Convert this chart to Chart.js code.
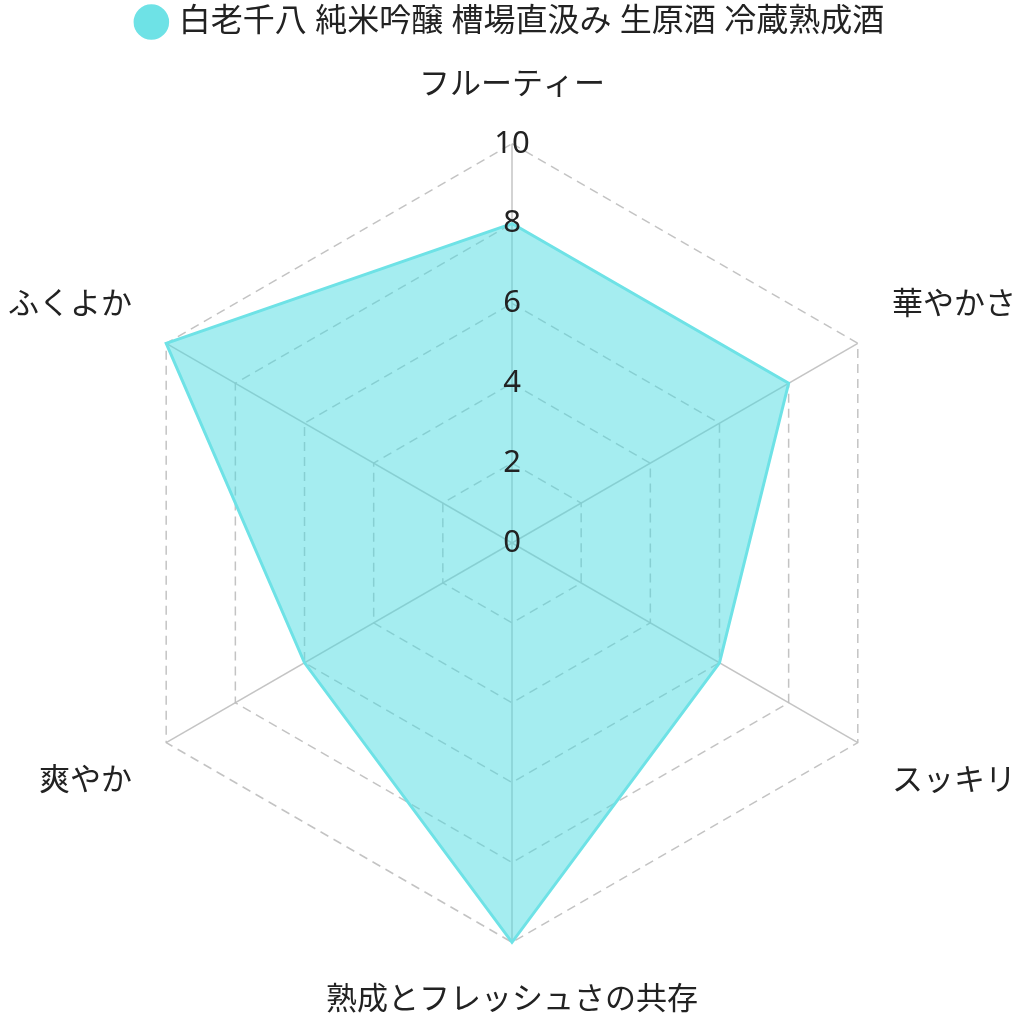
<!DOCTYPE html>
<html>
<head>
<meta charset="utf-8">
<script src="https://cdn.jsdelivr.net/npm/chart.js@4/dist/chart.umd.min.js"></script>
<style>
  html, body { margin: 0; padding: 0; background: #fff; }
  #wrap { width: 1024px; height: 1024px; }
</style>
</head>
<body>
<div id="wrap"><canvas id="radar"></canvas></div>
<script>
// data
var seriesName = '白老千八 純米吟醸 槽場直汲み 生原酒 冷蔵熟成酒';
var labels = ['フルーティー', '華やかさ', 'スッキリ', '熟成とフレッシュさの共存', '爽やか', 'ふくよか'];
var values = [8, 8, 6, 10, 6, 10];
var scaleMin = 0;
var scaleMax = 10;
var scaleStep = 2;

var fontFamily = '"Noto Sans", "Noto Sans CJK JP", sans-serif';
Chart.defaults.font.family = fontFamily;
Chart.defaults.color = '#222';

var lineColor = 'rgba(110, 226, 230, 1)';
var tickSize = 31;

// some room under the legend
var legendMargin = {
  id: 'legendMargin',
  beforeInit: function (chart) {
    var fit = chart.legend.fit;
    chart.legend.fit = function () {
      fit.bind(chart.legend)();
      this.height += 20;
    };
  }
};

// chart.js skips the first tick label of a radial scale, draw the "0" ourselves
var zeroTick = {
  id: 'zeroTick',
  afterDatasetsDraw: function (chart) {
    var r = chart.scales.r;
    var c = chart.ctx;
    var y = r.yCenter - r.getDistanceFromCenterForValue(r.ticks[0].value);
    c.save();
    c.font = tickSize + 'px ' + fontFamily;
    c.fillStyle = '#222';
    c.textAlign = 'center';
    c.textBaseline = 'middle';
    c.fillText(r.ticks[0].label, r.xCenter, y);
    c.restore();
  }
};

var ctx = document.getElementById('radar');
var myRadar = new Chart(ctx, {
  type: 'radar',
  data: {
    labels: labels,
    datasets: [{
      label: seriesName,
      data: values,
      backgroundColor: 'rgba(75, 220, 225, 0.5)',
      borderColor: lineColor,
      borderWidth: 3,
      pointRadius: 0,
      pointHoverRadius: 0,
      fill: true
    }]
  },
  options: {
    responsive: true,
    maintainAspectRatio: false,
    animation: false,
    layout: { padding: { top: 0, bottom: 4, left: 4, right: 4 } },
    plugins: {
      legend: {
        position: 'top',
        labels: {
          usePointStyle: true,
          pointStyle: 'circle',
          boxWidth: 23,
          boxHeight: 23,
          font: { size: 32 },
          color: '#222',
          padding: 6,
          generateLabels: function (chart) {
            var items = Chart.defaults.plugins.legend.labels.generateLabels(chart);
            items.forEach(function (it) {
              it.fillStyle = lineColor;
              it.strokeStyle = lineColor;
            });
            return items;
          }
        }
      },
      tooltip: { enabled: false }
    },
    scales: {
      r: {
        min: scaleMin,
        max: scaleMax,
        ticks: {
          stepSize: scaleStep,
          showLabelBackdrop: false,
          color: '#222',
          font: { size: tickSize },
          z: 1
        },
        grid: {
          color: 'rgba(185, 185, 185, 0.85)',
          lineWidth: 1.5
        },
        border: {
          dash: [9, 6]
        },
        angleLines: {
          color: 'rgba(190, 190, 190, 0.9)',
          lineWidth: 1.5
        },
        pointLabels: {
          color: '#222',
          font: { size: 31 },
          padding: 22
        }
      }
    }
  },
  plugins: [legendMargin, zeroTick]
});
</script>
</body>
</html>
